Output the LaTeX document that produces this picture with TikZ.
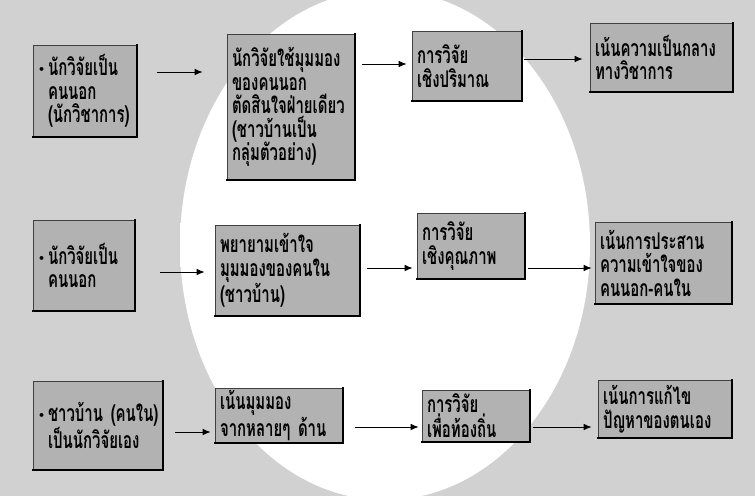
\documentclass[tikz,border=0pt]{standalone}
\usepackage{fontspec}
\usetikzlibrary{arrows.meta}
\newfontfamily\thai[Script=Thai, FakeStretch=0.65]{Loma}
\newfontfamily\symf{DejaVu Sans}
\definecolor{bg}{gray}{0.82}
\definecolor{boxfill}{gray}{0.70}
\pgfdeclareradialshading{softwhite}{\pgfpoint{0bp}{0bp}}{color(0bp)=(white); color(31bp)=(white); color(50bp)=(bg)}
\newcommand\bul{\raisebox{2pt}{\symf\fontsize{11}{11}\selectfont •}\hspace{3pt}}
\newcommand\ind{\hspace*{10pt}}
\newcommand\tbox[6]{%
  \pgfmathsetmacro\bw{#4-#2}\pgfmathsetmacro\bh{#5-#3}\pgfmathsetmacro\tw{#4-#2-10}%
  \node[tbx, minimum width=\bw pt, minimum height=\bh pt, text width=\tw pt] (#1) at ({(#2+#4)/2},{(#3+#5)/2}) {#6};
  \draw[shadowline] (#1.north east) -- (#1.south east) -- (#1.south west);}
\newcommand\conn[5]{%
  \draw[arr, shorten <=#4pt, shorten >=#5pt] (#1.east |- 0,#3) -- (#2.west |- 0,#3);}
\tikzset{
  tbx/.style={draw=black!75, line width=0.6pt, fill=boxfill, align=left, inner xsep=5pt, inner ysep=2pt,
    font=\thai\bfseries\fontsize{23}{23.5}\selectfont},
  shadowline/.style={line width=1.8pt, black, line cap=rect},
  arr/.style={-{Latex[length=8pt,width=6.5pt]}, line width=0.9pt}
}
\begin{document}
\begin{tikzpicture}[x=1pt,y=-1pt]
\useasboundingbox (0,0) rectangle (755,496);
\fill[bg] (0,0) rectangle (755,496);
\shade[shading=softwhite] (385,245) ellipse (205 and 255);
% row 1
\tbox{b11}{33}{45}{137}{137}{\mbox{\bul นักวิจัยเป็น}\\\ind\mbox{คนนอก}\\\ind\mbox{(นักวิชาการ)}}
\tbox{b12}{227}{34}{355}{180}{นักวิจัยใช้มุมมอง\\ของคนนอก\\ตัดสินใจฝ่ายเดียว\\(ชาวบ้านเป็น\\กลุ่มตัวอย่าง)}
\tbox{b13}{412}{31}{522}{101}{การวิจัย\\เชิงปริมาณ}
\tbox{b14}{590}{23}{733}{92}{เน้นความเป็นกลาง\\ทางวิชาการ}
% row 2
\tbox{b21}{33}{220}{135}{311}{\mbox{\bul นักวิจัยเป็น}\\\ind\mbox{คนนอก}}
\tbox{b22}{215}{225}{360}{316}{พยายามเข้าใจ\\มุมมองของคนใน\\(ชาวบ้าน)}
\tbox{b23}{417}{213}{525}{279}{การวิจัย\\เชิงคุณภาพ}
\tbox{b24}{595}{222}{732}{304}{เน้นการประสาน\\ความเข้าใจของ\\คนนอก-คนใน}
% row 3
\tbox{b31}{33}{381}{163}{470}{\mbox{\bul ชาวบ้าน (คนใน)}\\\ind\mbox{เป็นนักวิจัยเอง}}
\tbox{b32}{215}{388}{343}{443}{เน้นมุมมอง\\\mbox{จากหลายๆ ด้าน}}
\tbox{b33}{422}{390}{530}{442}{การวิจัย\\เพื่อท้องถิ่น}
\tbox{b34}{598}{380}{732}{438}{เน้นการแก้ไข\\ปัญหาของตนเอง}
% connectors
\conn{b11}{b12}{72}{20}{24}
\conn{b12}{b13}{64}{7}{5}
\conn{b13}{b14}{59}{2}{7}
\conn{b21}{b22}{272}{25}{10}
\conn{b22}{b23}{268}{7}{4}
\conn{b23}{b24}{268}{3}{3}
\conn{b31}{b32}{432}{12}{4}
\conn{b32}{b33}{427}{12}{3}
\conn{b33}{b34}{427}{3}{6}
\end{tikzpicture}
\end{document}
